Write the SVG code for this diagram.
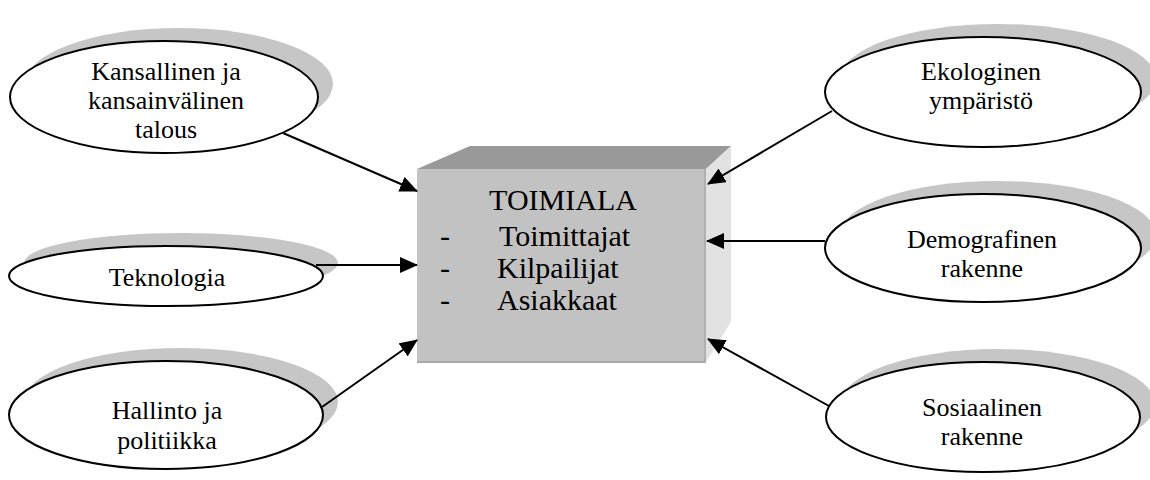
<svg xmlns="http://www.w3.org/2000/svg" width="1150" height="480" viewBox="0 0 1150 480">
<defs>
<marker id="arr" markerUnits="userSpaceOnUse" markerWidth="18" markerHeight="16" viewBox="0 0 18 16" refX="17" refY="8" orient="auto">
<path d="M0,0 L18,8 L0,16 Z" fill="#000"/>
</marker>
</defs>
<style>
.sh{fill:#c6c6c6;stroke:none}
.el{fill:#fff;stroke:#000;stroke-width:2}
.t{font-family:"Liberation Serif","Times New Roman",serif;font-size:26px;fill:#000;text-anchor:middle}
.bt{font-family:"Liberation Serif","Times New Roman",serif;font-size:30px;fill:#000}
.c{stroke:#000;stroke-width:2;fill:none;marker-end:url(#arr)}
</style>
<rect width="1150" height="480" fill="#fff"/>
<g id="toimiala">
<polygon points="417,169 470,146 731,146 706,169" fill="#999999"/>
<polygon points="706,169 731,146 731,322 706,362" fill="#e2e2e2"/>
<rect x="417" y="169" width="289" height="194" fill="#c2c2c2"/>
<line x1="417" y1="362" x2="706" y2="362" stroke="#a8a8a8" stroke-width="2"/>
<line x1="705" y1="169" x2="705" y2="363" stroke="#b0b0b0" stroke-width="2"/>
<text class="bt" x="563" y="210" text-anchor="middle">TOIMIALA</text>
<text class="bt" x="440" y="246">-</text>
<text class="bt" x="499" y="246">Toimittajat</text>
<text class="bt" x="440" y="278">-</text>
<text class="bt" x="497" y="278">Kilpailijat</text>
<text class="bt" x="440" y="310">-</text>
<text class="bt" x="497" y="310">Asiakkaat</text>
</g>
<g id="kansallinen">
<ellipse class="sh" cx="179" cy="84" rx="154" ry="56"/>
<ellipse class="el" cx="164" cy="97" rx="154" ry="56"/>
<text class="t" x="166" y="80">Kansallinen ja</text>
<text class="t" x="166" y="109">kansainvälinen</text>
<text class="t" x="166" y="138">talous</text>
</g>
<g id="teknologia">
<ellipse class="sh" cx="181" cy="263" rx="157" ry="30"/>
<ellipse class="el" cx="166" cy="276" rx="157" ry="30"/>
<text class="t" x="167" y="286">Teknologia</text>
</g>
<g id="hallinto">
<ellipse class="sh" cx="181" cy="402" rx="157" ry="54"/>
<ellipse class="el" cx="166" cy="415" rx="157" ry="54"/>
<text class="t" x="167" y="419">Hallinto ja</text>
<text class="t" x="167" y="449">politiikka</text>
</g>
<g id="ekologinen">
<ellipse class="sh" cx="998" cy="79" rx="158" ry="55"/>
<ellipse class="el" cx="983" cy="92" rx="158" ry="55"/>
<text class="t" x="981" y="80">Ekologinen</text>
<text class="t" x="981" y="109">ympäristö</text>
</g>
<g id="demografinen">
<ellipse class="sh" cx="998" cy="235" rx="158" ry="54"/>
<ellipse class="el" cx="983" cy="248" rx="158" ry="54"/>
<text class="t" x="982" y="248">Demografinen</text>
<text class="t" x="982" y="277">rakenne</text>
</g>
<g id="sosiaalinen">
<ellipse class="sh" cx="998" cy="404" rx="157" ry="55"/>
<ellipse class="el" cx="983" cy="417" rx="157" ry="55"/>
<text class="t" x="982" y="416">Sosiaalinen</text>
<text class="t" x="982" y="445">rakenne</text>
</g>
<g id="connectors">
<line class="c" x1="283" y1="133" x2="417" y2="191"/>
<line class="c" x1="316" y1="265" x2="417" y2="265"/>
<line class="c" x1="322" y1="407" x2="417" y2="340"/>
<line class="c" x1="832" y1="111" x2="708" y2="184"/>
<line class="c" x1="825" y1="241" x2="707" y2="241"/>
<line class="c" x1="829" y1="406" x2="708" y2="339"/>
</g>
</svg>
